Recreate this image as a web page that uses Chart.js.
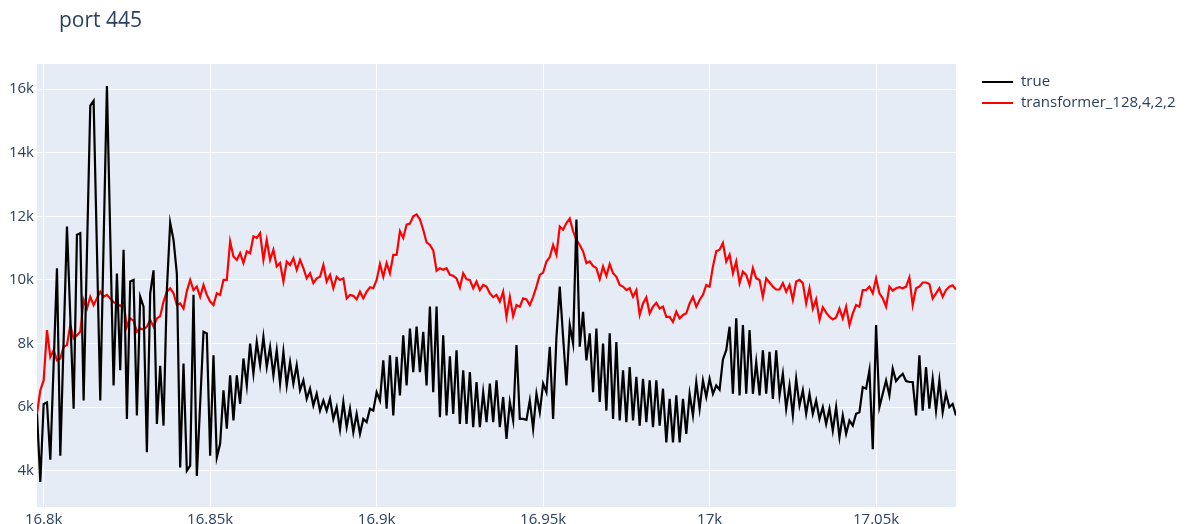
<!DOCTYPE html>
<html>
<head>
<meta charset="utf-8">
<script src="https://cdn.jsdelivr.net/npm/chart.js@4/dist/chart.umd.min.js"></script>
<style>
  html, body { margin: 0; padding: 0; background: #ffffff; }
  #wrap { position: relative; width: 1190px; height: 524px; }
</style>
</head>
<body>
<div id="wrap"><canvas id="c" width="1190" height="524"></canvas></div>
<script>
// Title and series names
const chartTitle = 'port 445';
const seriesNames = ['true', 'transformer_128,4,2,2'];
const seriesColors = ['#000000', '#ff0000'];

// First time step; one sample per step
const xStart = 16798;

// Observed traffic
const trueValues = [
  5800, 3650, 6100, 6150, 4350, 7350, 10370, 4470, 8100, 11680,
  8840, 5950, 11420, 11470, 6210, 10840, 15480, 15630, 10950, 6210,
  11160, 16100, 11370, 6680, 10200, 7160, 10950, 5630, 9950, 10000,
  5740, 9470, 9160, 4580, 9580, 10300, 5470, 7300, 5420, 9680,
  11800, 11260, 10200, 4100, 7370, 4000, 4160, 9530, 3840, 6100,
  8370, 8320, 4470, 7630, 4420, 4850, 6530, 5320, 7000, 5580,
  7000, 6100, 7530, 6680, 8000, 7050, 8050, 7320, 8210, 7260,
  7890, 7000, 7790, 6740, 7740, 6680, 7420, 6740, 7320, 6530,
  6840, 6260, 6580, 6050, 6420, 5890, 6210, 5890, 6260, 5630,
  6000, 5300, 6160, 5370, 5950, 5210, 5790, 5160, 5630, 5530,
  5950, 5890, 6470, 6210, 7470, 5950, 7630, 5740, 7580, 6370,
  8260, 6680, 8470, 7100, 8530, 7100, 8370, 6680, 9160, 6470,
  9160, 5680, 8260, 5740, 7600, 5790, 7790, 5470, 7160, 5470,
  7100, 5370, 6790, 5370, 6470, 5530, 6740, 5530, 6840, 5370,
  6320, 5000, 6160, 5580, 7950, 5630, 5630, 5600, 6210, 5320,
  6420, 5840, 6740, 6470, 7900, 5630, 8200, 9790, 8200, 6680,
  8580, 8000, 11900, 7900, 9000, 7470, 8320, 6470, 8470, 6160,
  8000, 5890, 8320, 5630, 8050, 5580, 7160, 5530, 7260, 5580,
  6950, 5420, 6890, 5530, 6840, 5370, 6840, 5420, 6580, 4890,
  6260, 4890, 6370, 4890, 6260, 5160, 6420, 5740, 6790, 5950,
  6840, 6320, 6890, 6420, 6680, 6550, 7500, 7790, 8530, 6420,
  8790, 6370, 8580, 6420, 8420, 6420, 7420, 6370, 7790, 6420,
  7740, 6260, 7790, 6370, 7050, 5950, 6680, 5740, 6890, 6050,
  6530, 5790, 6420, 5790, 6210, 5630, 6000, 5470, 5950, 5260,
  6000, 5050, 5740, 5160, 5580, 5420, 5790, 5840, 6630, 6580,
  7160, 4680, 8580, 6000, 6420, 6840, 6370, 7210, 6820, 6950,
  7050, 6820, 6790, 6790, 5740, 7630, 5890, 7260, 5950, 6890,
  5890, 6840, 5840, 6420, 6000, 6100, 5740
];

// Model forecast
const predValues = [
  5800, 6530, 6840, 8420, 7580, 7790, 7470, 7530, 7900, 7950,
  8580, 8160, 8260, 8370, 9370, 9100, 9470, 9210, 9420, 9630,
  9470, 9530, 9420, 9300, 9260, 9180, 9280, 8530, 8790, 8720,
  8370, 8470, 8440, 8530, 8740, 8530, 8790, 8860, 9320, 9630,
  9740, 9580, 9210, 9260, 9100, 9650, 10000, 9680, 9790, 9470,
  9840, 9530, 9320, 9210, 9580, 9530, 10000, 10000, 11210, 10740,
  10630, 10840, 10530, 10900, 10840, 11370, 11320, 11470, 10630, 11260,
  10630, 10950, 10420, 10530, 9950, 10580, 10470, 10680, 10320, 10630,
  10370, 10050, 10210, 9900, 10050, 10100, 10470, 9950, 10160, 9740,
  10100, 10000, 10050, 9420, 9530, 9500, 9390, 9630, 9420, 9630,
  9770, 9740, 10000, 10500, 10100, 10530, 10210, 10790, 10790, 11530,
  11320, 11740, 11770, 12000, 12060, 11900, 11580, 11180, 11100, 10930,
  10290, 10370, 10320, 10370, 10160, 10130, 10050, 9760, 10210, 10020,
  10000, 9740, 9950, 9680, 9840, 9790, 9580, 9460, 9530, 9320,
  9630, 8840, 9470, 8860, 9210, 9160, 9420, 9390, 9210, 9470,
  9790, 10160, 10230, 10580, 10720, 11100, 10790, 11680, 11580, 11790,
  11930, 11530, 11260, 11100, 10900, 10530, 10580, 10440, 10370, 10020,
  10420, 10130, 10500, 10210, 10100, 9840, 9790, 9680, 9740, 9470,
  9680, 8900, 9260, 9450, 8950, 9160, 9280, 9100, 9160, 8840,
  8840, 8680, 9000, 8790, 8900, 8950, 9260, 9470, 9160, 9370,
  9530, 9840, 9790, 10420, 10900, 10950, 11160, 10580, 10790, 10210,
  10580, 9900, 10260, 10160, 9840, 10370, 10050, 10000, 9470, 10050,
  9920, 9790, 9700, 9700, 9900, 9630, 9840, 9370, 9950, 10000,
  9900, 9260, 9740, 9100, 9390, 8740, 9140, 8970, 8840, 8760,
  8820, 9100, 8790, 9160, 8580, 8950, 9210, 9160, 9680, 9680,
  9790, 9580, 10050, 9580, 9420, 9160, 9790, 9660, 9740, 9770,
  9740, 9790, 10080, 9210, 9740, 9790, 9920, 9920, 9870, 9420,
  9580, 9740, 9470, 9680, 9790, 9830, 9700
];

// Axis ticks
const xTickValues = [16800, 16850, 16900, 16950, 17000, 17050];
const xTickLabels = ['16.8k', '16.85k', '16.9k', '16.95k', '17k', '17.05k'];
const yTickValues = [4000, 6000, 8000, 10000, 12000, 14000, 16000];
const yTickLabels = ['4k', '6k', '8k', '10k', '12k', '14k', '16k'];

const xSteps = trueValues.map((_, i) => xStart + i);
const toPoints = vals => vals.map((v, i) => ({ x: xSteps[i], y: v }));

const inkColor = '#2a3f5f';
const fontFamily = '"Open Sans", Verdana, Arial, sans-serif';

// Plot background, title and legend drawn around the chart area
const decor = {
  id: 'decor',
  beforeDraw(chart) {
    const { ctx, chartArea: a } = chart;
    ctx.save();
    ctx.fillStyle = '#e5ecf6';
    ctx.fillRect(a.left, a.top, a.right - a.left, a.bottom - a.top);
    ctx.restore();
  },
  afterDraw(chart) {
    const { ctx } = chart;
    ctx.save();
    ctx.fillStyle = inkColor;
    ctx.textBaseline = 'middle';
    ctx.textAlign = 'left';
    ctx.font = '21px ' + fontFamily;
    ctx.fillText(chartTitle, 59, 21);

    ctx.font = '15px ' + fontFamily;
    chart.data.datasets.forEach((ds, k) => {
      const y = 82 + k * 21;
      ctx.strokeStyle = ds.borderColor;
      ctx.lineWidth = 2;
      ctx.beginPath();
      ctx.moveTo(982, y);
      ctx.lineTo(1013, y);
      ctx.stroke();
      ctx.fillStyle = inkColor;
      ctx.fillText(ds.label, 1021, y);
    });
    ctx.restore();
  }
};

new Chart(document.getElementById('c'), {
  type: 'line',
  data: {
    datasets: [
      { label: seriesNames[0], data: toPoints(trueValues), borderColor: seriesColors[0], borderWidth: 2.2, pointRadius: 0, tension: 0, fill: false },
      { label: seriesNames[1], data: toPoints(predValues), borderColor: seriesColors[1], borderWidth: 2.2, pointRadius: 0, tension: 0, fill: false }
    ]
  },
  options: {
    responsive: false,
    animation: false,
    devicePixelRatio: 1,
    layout: { padding: { left: 0, right: 234, top: 64, bottom: 0 } },
    plugins: { legend: { display: false }, title: { display: false }, tooltip: { enabled: false } },
    scales: {
      x: {
        type: 'linear',
        min: xStart,
        max: xStart + trueValues.length - 1,
        afterFit(s) { s.height = 17; },
        afterBuildTicks(s) { s.ticks = xTickValues.map(v => ({ value: v })); },
        grid: { color: '#ffffff', lineWidth: 1, drawTicks: false },
        border: { display: false },
        ticks: {
          padding: 4,
          maxRotation: 0,
          autoSkip: false,
          color: inkColor,
          font: { family: fontFamily, size: 15 },
          callback: v => xTickLabels[xTickValues.indexOf(v)]
        }
      },
      y: {
        min: 2860,
        max: 16790,
        afterFit(s) { s.width = 37; },
        afterBuildTicks(s) { s.ticks = yTickValues.map(v => ({ value: v })); },
        grid: { color: '#ffffff', lineWidth: 1, drawTicks: false },
        border: { display: false },
        ticks: {
          padding: 3,
          autoSkip: false,
          color: inkColor,
          font: { family: fontFamily, size: 15 },
          callback: v => yTickLabels[yTickValues.indexOf(v)]
        }
      }
    }
  },
  plugins: [decor]
});
</script>
</body>
</html>
